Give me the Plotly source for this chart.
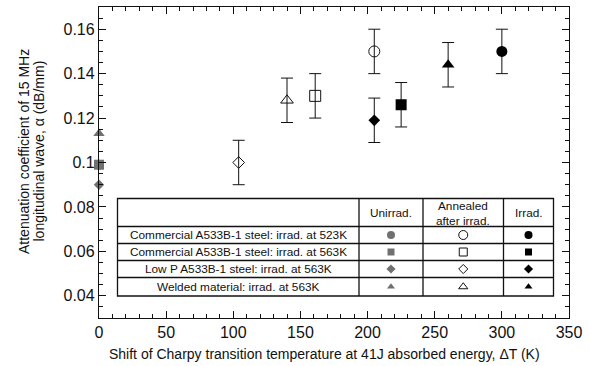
import plotly.graph_objects as go

# ---------------- data ----------------
materials = [
    "Commercial A533B-1 steel: irrad. at 523K",
    "Commercial A533B-1 steel: irrad. at 563K",
    "Low P A533B-1 steel: irrad. at 563K",
    "Welded material: irrad. at 563K",
]
symbols = ["circle", "square", "diamond", "triangle-up"]
conditions = ["Unirrad.", "Annealed<br>after irrad.", "Irrad."]

unirr_dT = [0, 0, 0, 0]
unirr_alpha = [0.099, 0.099, 0.090, 0.113]

anneal_dT = [205, 161, 104, 140]
anneal_alpha = [0.150, 0.130, 0.100, 0.128]
anneal_err = [0.010, 0.010, 0.010, 0.010]

irr_dT = [300, 225, 205, 260]
irr_alpha = [0.150, 0.126, 0.119, 0.144]
irr_err = [0.010, 0.010, 0.010, 0.010]

x_ticks = [0, 50, 100, 150, 200, 250, 300, 350]
y_ticks = [0.04, 0.06, 0.08, 0.1, 0.12, 0.14, 0.16]

x_title = "Shift of Charpy transition temperature at 41J absorbed energy, \u0394T (K)"
y_title_lines = ["Attenuation coefficient of 15 MHz", "longitudinal wave, \u03b1 (dB/mm)"]

# ---------------- style ----------------
W, H = 590, 366
ML, MR, MT, MB = 99, 21, 7, 48
PW, PH = W - ML - MR, H - MT - MB
GRAY = "#707070"
INK = "#111111"
FONT = "Liberation Sans, Arial, Helvetica, sans-serif"
sizes = {"circle": 10, "square": 10, "diamond": 8, "triangle-up": 10}
tsizes = {"circle": 8, "square": 7, "diamond": 7, "triangle-up": 7}


def px(x):
    return (x - ML) / PW


def py(y):
    return (MT + PH - y) / PH


fig = go.Figure()

# unirradiated (gray, no error bars)
for i in range(4):
    s = symbols[i]
    fig.add_trace(go.Scatter(
        x=[unirr_dT[i]], y=[unirr_alpha[i]], mode="markers",
        marker=dict(symbol=s, size=sizes[s], color=GRAY, line=dict(width=0)),
        cliponaxis=False, name=materials[i]))

# annealed after irradiation (open)
for i in range(4):
    s = symbols[i]
    fig.add_trace(go.Scatter(
        x=[anneal_dT[i]], y=[anneal_alpha[i]], mode="markers",
        marker=dict(symbol=s + "-open", size=sizes[s] + 1, color=INK, line=dict(width=1)),
        error_y=dict(type="data", array=[anneal_err[i]], color=INK, thickness=1, width=6),
        name=materials[i]))

# irradiated (filled black)
for i in range(4):
    s = symbols[i]
    fig.add_trace(go.Scatter(
        x=[irr_dT[i]], y=[irr_alpha[i]], mode="markers",
        marker=dict(symbol=s, size=sizes[s] + 1, color="black", line=dict(width=0)),
        error_y=dict(type="data", array=[irr_err[i]], color=INK, thickness=1, width=6),
        name=materials[i]))

# ---------------- table (legend) ----------------
tl, c1, c2, c3, tr = 117.5, 359, 423, 503.5, 553.5
tt, r1, r2, r3, r4, tb = 198.5, 226.5, 243.5, 260.5, 277.5, 296
rows = [r1, r2, r3, r4, tb]
cols = [c1, c2, c3, tr]

shapes = []
lw = 1.3
shapes.append(dict(type="rect", xref="paper", yref="paper", x0=px(tl), x1=px(tr),
                   y0=py(tb), y1=py(tt), line=dict(color=INK, width=lw),
                   fillcolor="rgba(0,0,0,0)", layer="above"))
for r in [r1, r2, r3, r4]:
    shapes.append(dict(type="line", xref="paper", yref="paper", x0=px(tl), x1=px(tr),
                       y0=py(r), y1=py(r), line=dict(color=INK, width=lw)))
for c in [c1, c2, c3]:
    shapes.append(dict(type="line", xref="paper", yref="paper", x0=px(c), x1=px(c),
                       y0=py(tb), y1=py(tt), line=dict(color=INK, width=lw)))

annotations = []
for i, m in enumerate(materials):
    yc = (rows[i] + rows[i + 1]) / 2
    annotations.append(dict(text=m, xref="paper", yref="paper", x=px((tl + c1) / 2), y=py(yc),
                            showarrow=False, xanchor="center", yanchor="middle",
                            font=dict(size=11.8, color=INK, family=FONT)))
for j, cnd in enumerate(conditions):
    xc = (cols[j] + cols[j + 1]) / 2
    annotations.append(dict(text=cnd, xref="paper", yref="paper", x=px(xc), y=py((tt + r1) / 2 + 0.5),
                            showarrow=False, xanchor="center", yanchor="middle",
                            font=dict(size=11.8, color=INK, family=FONT)))

# table marker keys on an overlay axis matching paper coordinates
for j in range(3):
    xc = px((cols[j] + cols[j + 1]) / 2)
    for i in range(4):
        s = symbols[i]
        yc = py((rows[i] + rows[i + 1]) / 2)
        if j == 0:
            mk = dict(symbol=s, size=tsizes[s], color=GRAY, line=dict(width=0))
        elif j == 1:
            osz = tsizes[s] if s == "diamond" else tsizes[s] + 1
            mk = dict(symbol=s + "-open", size=osz, color=INK, line=dict(width=1))
        else:
            mk = dict(symbol=s, size=tsizes[s], color="black", line=dict(width=0))
        fig.add_trace(go.Scatter(x=[xc], y=[yc], mode="markers", marker=mk,
                                 xaxis="x2", yaxis="y2", hoverinfo="skip"))

# axis titles
annotations.append(dict(text=x_title,
                        xref="paper", yref="paper", x=px(324), y=py(354), showarrow=False,
                        xanchor="center", yanchor="middle",
                        font=dict(size=14, color=INK, family=FONT)))
for k, line in enumerate(y_title_lines):
    annotations.append(dict(text=line,
                            xref="paper", yref="paper", x=px(23.5 + 14.5 * k), y=py(151.5),
                            showarrow=False, xanchor="center", yanchor="middle", textangle=-90,
                            font=dict(size=14, color=INK, family=FONT)))

axis_common = dict(showline=True, linecolor=INK, linewidth=1.3, mirror="allticks",
                   ticks="inside", ticklen=7, tickwidth=1, tickcolor=INK,
                   showgrid=False, zeroline=False,
                   tickfont=dict(size=16, color=INK, family=FONT))

fig.update_layout(
    width=W, height=H,
    margin=dict(l=ML, r=MR, t=MT, b=MB),
    paper_bgcolor="white", plot_bgcolor="white",
    showlegend=False,
    shapes=shapes, annotations=annotations,
    xaxis=dict(range=[0, 350], tickvals=x_ticks,
               minor=dict(dtick=10, ticklen=4, tickcolor=INK, ticks="inside"),
               **axis_common),
    yaxis=dict(range=[0.03, 0.17], tickvals=y_ticks,
               minor=dict(dtick=0.005, tick0=0.03, ticklen=4, tickcolor=INK, ticks="inside"),
               **axis_common),
    xaxis2=dict(overlaying="x", anchor="y2", range=[0, 1], visible=False, domain=[0, 1]),
    yaxis2=dict(overlaying="y", anchor="x2", range=[0, 1], visible=False, domain=[0, 1]),
)

fig.write_html("out.html",
               config={"displayModeBar": False},
               post_script="document.body.style.margin='0px';document.body.style.overflow='hidden';")
